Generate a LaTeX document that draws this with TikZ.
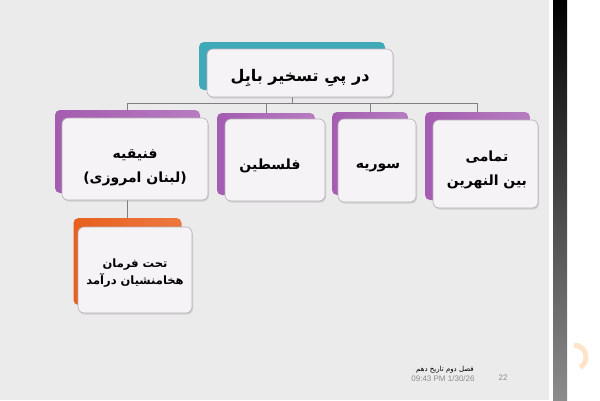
\documentclass[tikz,border=0pt]{standalone}
\usepackage{fontspec}
\newfontfamily\arabicfont[Script=Arabic]{DejaVu Sans}
\setmainfont{Liberation Sans}
\TeXXeTstate=1
\usetikzlibrary{shadows}
\definecolor{bg}{HTML}{EBEBEB}
\definecolor{tealc}{HTML}{3FA9B8}
\definecolor{purp}{HTML}{A45CB0}
\definecolor{orng}{HTML}{E8601E}
\definecolor{frontc}{HTML}{F6F3F6}
\definecolor{frontb}{HTML}{B8B0B8}
\definecolor{conn}{HTML}{7F7F7F}
\tikzset{
  backbox/.style={rounded corners=5pt, minimum width=#1, inner sep=0pt},
  frontbox/.style={rounded corners=6pt, fill=frontc, draw=frontb, line width=0.6pt,
     drop shadow={opacity=0.25, shadow xshift=1pt, shadow yshift=-1.5pt},
     inner sep=0pt},
  link/.style={draw=conn, line width=0.7pt},
  lbl/.style={align=center, inner sep=0pt, font=\arabicfont\bfseries\fontsize{14}{24}\selectfont},
}
\begin{document}
\begin{tikzpicture}[x=1pt,y=-1pt]
\useasboundingbox (0,0) rectangle (600,400);
\fill[white] (0,0) rectangle (600,400);
\fill[bg] (0,0) rectangle (549,400);
\shade[top color=black, bottom color=black!45] (553,0) rectangle (567,400);
\draw[line width=5pt, color=orange!35, opacity=0.6] (574,345) arc[start angle=90, end angle=-60, radius=12pt];

\coordinate (bus) at (0,103);

% back boxes
\node[backbox=186pt, minimum height=48pt, fill=tealc] (topb) at (292,66) {};
\node[backbox=145pt, minimum height=83pt, left color=purp, right color=purp!80] (phb) at (127.5,151.5) {};
\node[backbox=98pt, minimum height=82pt, left color=purp, right color=purp!80] (palb) at (266,154) {};
\node[backbox=76pt, minimum height=83pt, left color=purp, right color=purp!80] (syrb) at (370,153.5) {};
\node[backbox=105pt, minimum height=88pt, left color=purp, right color=purp!80] (tamb) at (477.5,156) {};
\node[backbox=108pt, minimum height=87pt, left color=orng, right color=orng!85] (orb) at (127.5,261.5) {};

% connectors
\draw[link] (topb.south) -- (topb.south |- bus) -| (phb.north);
\draw[link] (topb.south |- bus) -| (palb.north);
\draw[link] (topb.south |- bus) -| (syrb.north);
\draw[link] (topb.south |- bus) -| (tamb.north);
\draw[link] (phb.south) -- (orb.north);

% front boxes
\node[frontbox, minimum width=186pt, minimum height=48pt] (topf) at (300,73) {};
\node[frontbox, minimum width=146pt, minimum height=82pt] (phf) at (135,159) {};
\node[frontbox, minimum width=100pt, minimum height=82pt] (palf) at (275,160) {};
\node[frontbox, minimum width=78pt, minimum height=83pt] (syrf) at (377,160.5) {};
\node[frontbox, minimum width=105pt, minimum height=88pt] (tamf) at (485.5,164) {};
\node[frontbox, minimum width=114pt, minimum height=86pt] (orf) at (135,270) {};

% texts
\node[lbl, font=\arabicfont\bfseries\fontsize{16}{20}\selectfont] (topt) at (300,78) {\beginR در پیِ تسخیر بابِل\endR};
\node[lbl] (pht) at (135,168) {\beginR فنیقیه\endR\\\beginR (لبنان امروزی)\endR};
\node[lbl] (palt) at (270,166) {\beginR فلسطین\endR};
\node[lbl] (syrt) at (378,168) {\beginR سوریه\endR};
\node[lbl] (tamt) at (487,169.5) {\beginR تمامی\endR\\\beginR بین النهرین\endR};
\node[lbl, font=\arabicfont\bfseries\fontsize{11.5}{17}\selectfont] (ort) at (135,273) {\beginR تحت فرمان\endR\\\beginR هخامنشیان درآمد\endR};

% footer
\node[font=\arabicfont\fontsize{7}{8}\selectfont, inner sep=0pt] (ft1) at (445,370) {\beginR فصل دوم تاریخ دهم\endR};
\node[font=\fontsize{8}{9}\selectfont, text=black!45, inner sep=0pt] (ft2) at (443,379) {09:43 PM 1/30/26};
\node[font=\fontsize{8}{9}\selectfont, text=black!45, inner sep=0pt] (ft3) at (503,378) {22};
\end{tikzpicture}
\end{document}
